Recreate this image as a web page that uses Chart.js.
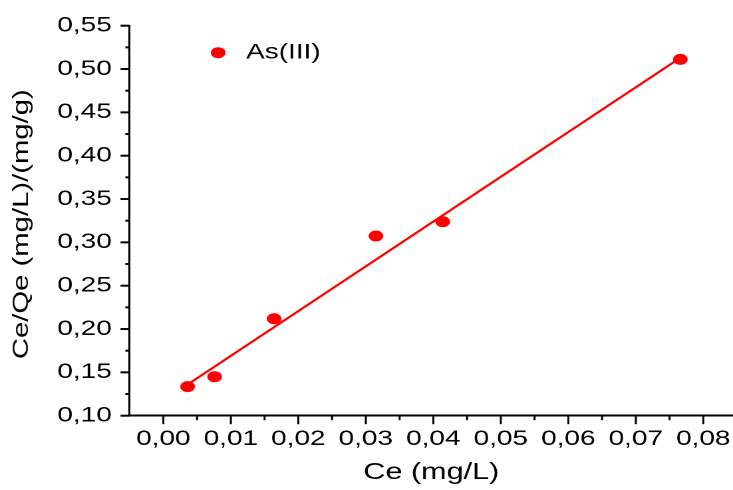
<!DOCTYPE html>
<html>
<head>
<meta charset="utf-8">
<script src="https://cdn.jsdelivr.net/npm/chart.js@4/dist/chart.umd.min.js"></script>
<style>
  html, body { margin: 0; padding: 0; background: #fff; overflow: hidden; }
  #c { display: block; width: 733px; height: 490px; }
</style>
</head>
<body>
<canvas id="c" width="551" height="490" style="width:733px;height:490px;"></canvas>
<script>
// ---- data ----
const seriesName = 'As(III)';
const ceValues   = [0.0036, 0.0076, 0.0164, 0.0315, 0.0414, 0.0766];
const ceQeValues = [0.1335, 0.1450, 0.2119, 0.3073, 0.3238, 0.5112];
const fitX = [0.0036, 0.0766];
const fitY = [0.1360, 0.5130];
const xMajorTicks = [0.00, 0.01, 0.02, 0.03, 0.04, 0.05, 0.06, 0.07, 0.08];
const xMinorTicks = [0.005, 0.015, 0.025, 0.035, 0.045, 0.055, 0.065, 0.075];
const yMajorTicks = [0.10, 0.15, 0.20, 0.25, 0.30, 0.35, 0.40, 0.45, 0.50, 0.55];
const yMinorTicks = [0.125, 0.175, 0.225, 0.275, 0.325, 0.375, 0.425, 0.475, 0.525];
const xTitle = 'Ce (mg/L)';
const yTitle = 'Ce/Qe (mg/L)/(mg/g)';

// horizontal stretch of the reference picture
const S = 733 / 551;
const FONT = 'Liberation Sans, Arial, sans-serif';
const fmt = v => Number(v).toFixed(2).replace('.', ',');

Chart.defaults.font.family = FONT;
Chart.defaults.color = '#000';

const tickPlugin = {
  id: 'axisTicks',
  beforeDraw(chart) {
    const ys = chart.scales.y;
    if (ys && !ys._stretchPatched) {
      const orig = ys.drawTitle;
      ys.drawTitle = function () {
        const ctx = this.ctx;
        const cx0 = this.left + 13.2;
        const cy0 = (this.top + this.bottom) / 2;
        ctx.save();
        ctx.translate(16.3, 224.2);
        ctx.scale(1 / S, S);
        ctx.translate(-cx0, -cy0);
        orig.call(this);
        ctx.restore();
      };
      ys._stretchPatched = true;
    }
  },
  afterLayout(chart) {
    // let the x axis run to the right edge of the picture
    const x = chart.scales.x, a = chart.chartArea, R = chart.width;
    x.right = R; x.width = R - x.left;
    a.right = R; a.width = R - a.left;
    x.configure();
    const lg = chart.legend;
    if (lg) { lg.left = 153.5; lg.top = 42.2; }
  },
  afterDraw(chart) {
    const {ctx, scales: {x, y}, chartArea: a} = chart;
    ctx.save();
    ctx.strokeStyle = '#000';
    ctx.lineWidth = 1.5;
    const vline = (px, len) => { ctx.beginPath(); ctx.moveTo(px, a.bottom); ctx.lineTo(px, a.bottom + len); ctx.stroke(); };
    xMajorTicks.forEach(v => vline(x.getPixelForValue(v), 8.5));
    xMinorTicks.forEach(v => vline(x.getPixelForValue(v), 4.5));
    ctx.lineWidth = 2;
    const hline = (py, len) => { ctx.beginPath(); ctx.moveTo(a.left, py); ctx.lineTo(a.left - len, py); ctx.stroke(); };
    yMajorTicks.forEach(v => hline(y.getPixelForValue(v), 6.8));
    yMinorTicks.forEach(v => hline(y.getPixelForValue(v), 3.2));
    ctx.restore();
  }
};

const points = ceValues.map((v, i) => ({x: v, y: ceQeValues[i]}));
const fitLine = fitX.map((v, i) => ({x: v, y: fitY[i]}));

new Chart(document.getElementById('c'), {
  type: 'scatter',
  data: {
    datasets: [
      {
        label: seriesName,
        data: points,
        backgroundColor: '#ff0000',
        borderColor: '#ff0000',
        pointStyle: 'circle',
        pointRadius: 5.5,
        pointBorderWidth: 0,
        borderWidth: 0,
        order: 1
      },
      {
        label: 'fit',
        data: fitLine,
        showLine: true,
        borderColor: '#ff0000',
        backgroundColor: '#ff0000',
        borderWidth: 2,
        pointRadius: 0,
        fill: false,
        order: 2
      }
    ]
  },
  options: {
    responsive: false,
    devicePixelRatio: 2,
    animation: false,
    layout: { padding: { top: 25.7, left: 0, right: 0, bottom: 0 } },
    plugins: {
      tooltip: { enabled: false },
      legend: {
        display: true,
        position: 'chartArea',
        align: 'start',
        labels: {
          usePointStyle: true,
          boxWidth: 21,
          boxHeight: 7.78,
          padding: 0,
          color: '#000',
          font: { size: 21, family: FONT },
          filter: item => item.datasetIndex === 0
        }
      }
    },
    scales: {
      x: {
        type: 'linear',
        min: -0.005,
        max: 0.0844,
        afterFit: s => { s.height = 74.3; s.paddingLeft = 0; s.paddingRight = 0; },
        afterBuildTicks: s => { s.ticks = xMajorTicks.map(v => ({value: v})); },
        grid: { display: false, drawTicks: false },
        border: { display: true, color: '#000', width: 2 },
        ticks: {
          padding: 11,
          maxRotation: 0,
          autoSkip: false,
          color: '#000',
          font: { size: 21, family: FONT },
          callback: v => fmt(v)
        },
        title: {
          display: true,
          text: xTitle,
          color: '#000',
          font: { size: 23, family: FONT },
          padding: { top: 0, bottom: 3.5 }
        }
      },
      y: {
        type: 'linear',
        min: 0.10,
        max: 0.55,
        afterFit: s => { s.width = 97.4; s.paddingTop = 0; s.paddingBottom = 0; },
        afterBuildTicks: s => { s.ticks = yMajorTicks.map(v => ({value: v})); },
        grid: { display: false, drawTicks: false },
        border: { display: true, color: '#000', width: 1.5 },
        ticks: {
          padding: 13.4,
          autoSkip: false,
          color: '#000',
          font: { size: 21, family: FONT },
          callback: v => fmt(v)
        },
        title: {
          display: true,
          text: yTitle,
          color: '#000',
          font: { size: 22, family: FONT },
          padding: { top: 0, bottom: 0 }
        }
      }
    }
  },
  plugins: [tickPlugin]
});
</script>
</body>
</html>
